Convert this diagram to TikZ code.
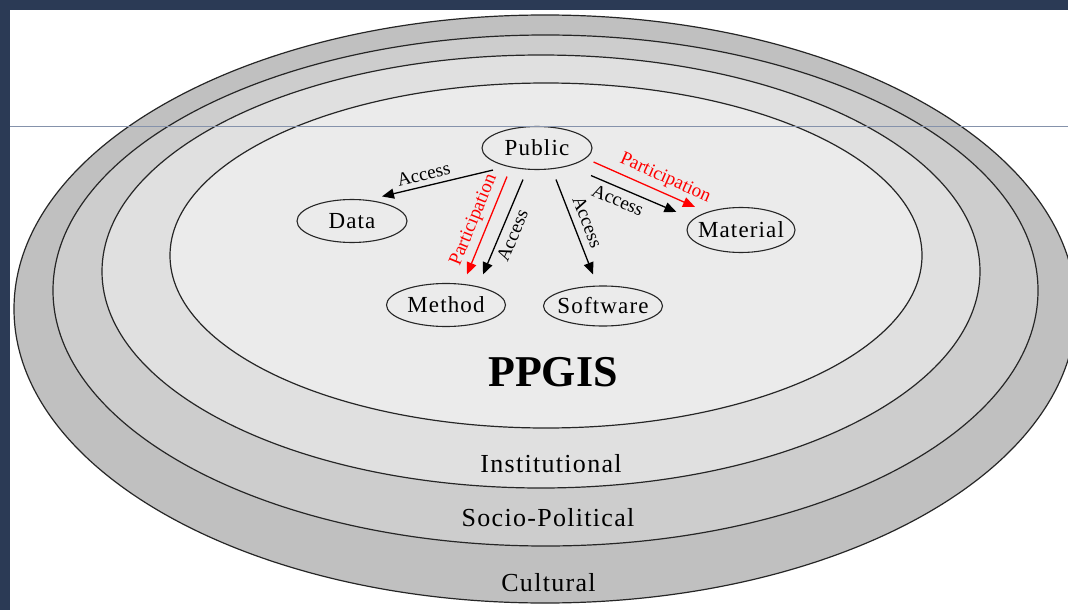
\documentclass[tikz,border=0pt]{standalone}
\usepackage{fontspec}
\setmainfont{Liberation Serif}
\newfontfamily\spacedrm{Liberation Serif}[LetterSpace=5]
\usetikzlibrary{shapes.geometric}
\usetikzlibrary{arrows.meta}

\definecolor{frame}{RGB}{43,58,85}
\definecolor{rule}{RGB}{133,146,171}
\definecolor{cultural}{RGB}{192,192,192}
\definecolor{political}{RGB}{205,205,205}
\definecolor{institutional}{RGB}{224,224,224}
\definecolor{ppgis}{RGB}{235,235,235}

\tikzset{
  layer/.style={draw=black!85, line width=1.2pt},
  entity/.style={ellipse, draw=black!85, line width=1.1pt, inner xsep=-6pt,
    inner ysep=0pt, minimum height=43pt,
    font=\spacedrm\fontsize{23}{26}\selectfont},
  access/.style={-{Triangle[length=12pt,width=10pt]}, line width=1.3pt},
  participation/.style={access, red},
  flowlabel/.style={sloped, inner sep=5pt, font=\fontsize{19}{21}\selectfont},
  layerlabel/.style={font=\spacedrm\fontsize{26}{30}\selectfont}
}

\begin{document}
\begin{tikzpicture}[x=1pt,y=-1pt]

  \clip (0,0) rectangle (1068,610);
  \fill [white] (0,0) rectangle (1068,610);

  % the four layers, outermost first
  \draw [layer, fill=cultural] (545,309) ellipse [x radius=531, y radius=294];
  \draw [layer, fill=political] (545.5,290.5) ellipse [x radius=492.5, y radius=255.5];
  \draw [layer, fill=institutional] (541,271.5) ellipse [x radius=439, y radius=216.5];
  \draw [layer, fill=ppgis] (546,255.5) ellipse [x radius=376, y radius=172.5];

  \node [layerlabel] (inst) at (551,464) {Institutional};
  \node [layerlabel] (soc) at (548,518) {Socio-Political};
  \node [layerlabel] (cult) at (548.5,583) {Cultural};
  \node [font=\bfseries\fontsize{44}{50}\selectfont] (title) at (553,372) {PPGIS};

  \node [entity, minimum width=110pt] (pub) at (537,148) {Public};
  \node [entity, minimum width=110pt] (dat) at (352,221) {Data};
  \node [entity, minimum width=119pt] (met) at (446,305) {Method};
  \node [entity, minimum width=119pt, minimum height=40pt] (sof) at (603,306) {Software};
  \node [entity, minimum width=108pt, minimum height=45pt] (mat) at (741,230) {Material};

  \draw [access] ([xshift=-44pt]pub.south)
        -- node [flowlabel, above, pos=0.6] {Access} ([xshift=30pt,yshift=2.5pt]dat.north);
  \draw [participation] ([xshift=-30pt,yshift=-6.5pt]pub.south)
        -- node [flowlabel, above, pos=0.5] {Participation} ([xshift=21pt,yshift=8.5pt]met.north);
  \draw [access] ([xshift=-14pt,yshift=-9.5pt]pub.south)
        -- node [flowlabel, below, pos=0.54] {Access} ([xshift=37pt,yshift=8.5pt]met.north);
  \draw [access] ([xshift=19pt,yshift=-9.5pt]pub.south)
        -- node [flowlabel, above, pos=0.5, inner sep=7pt] {Access} ([xshift=-10pt,yshift=11pt]sof.north);
  \draw [access] ([xshift=54pt,yshift=-5.5pt]pub.south)
        -- node [flowlabel, below, pos=0.37] {Access} ([xshift=-10pt,yshift=18pt]mat.west);
  \draw [participation] ([xshift=1pt,yshift=-14pt]pub.east)
        -- node [flowlabel, above, pos=0.65] {Participation} ([xshift=-46pt]mat.north);

  % slide frame
  \draw [rule, line width=1pt] (10,126) -- (1068,126);
  \fill [frame] (0,0) rectangle (1068,10);
  \fill [frame] (0,0) rectangle (10,610);

\end{tikzpicture}
\end{document}
